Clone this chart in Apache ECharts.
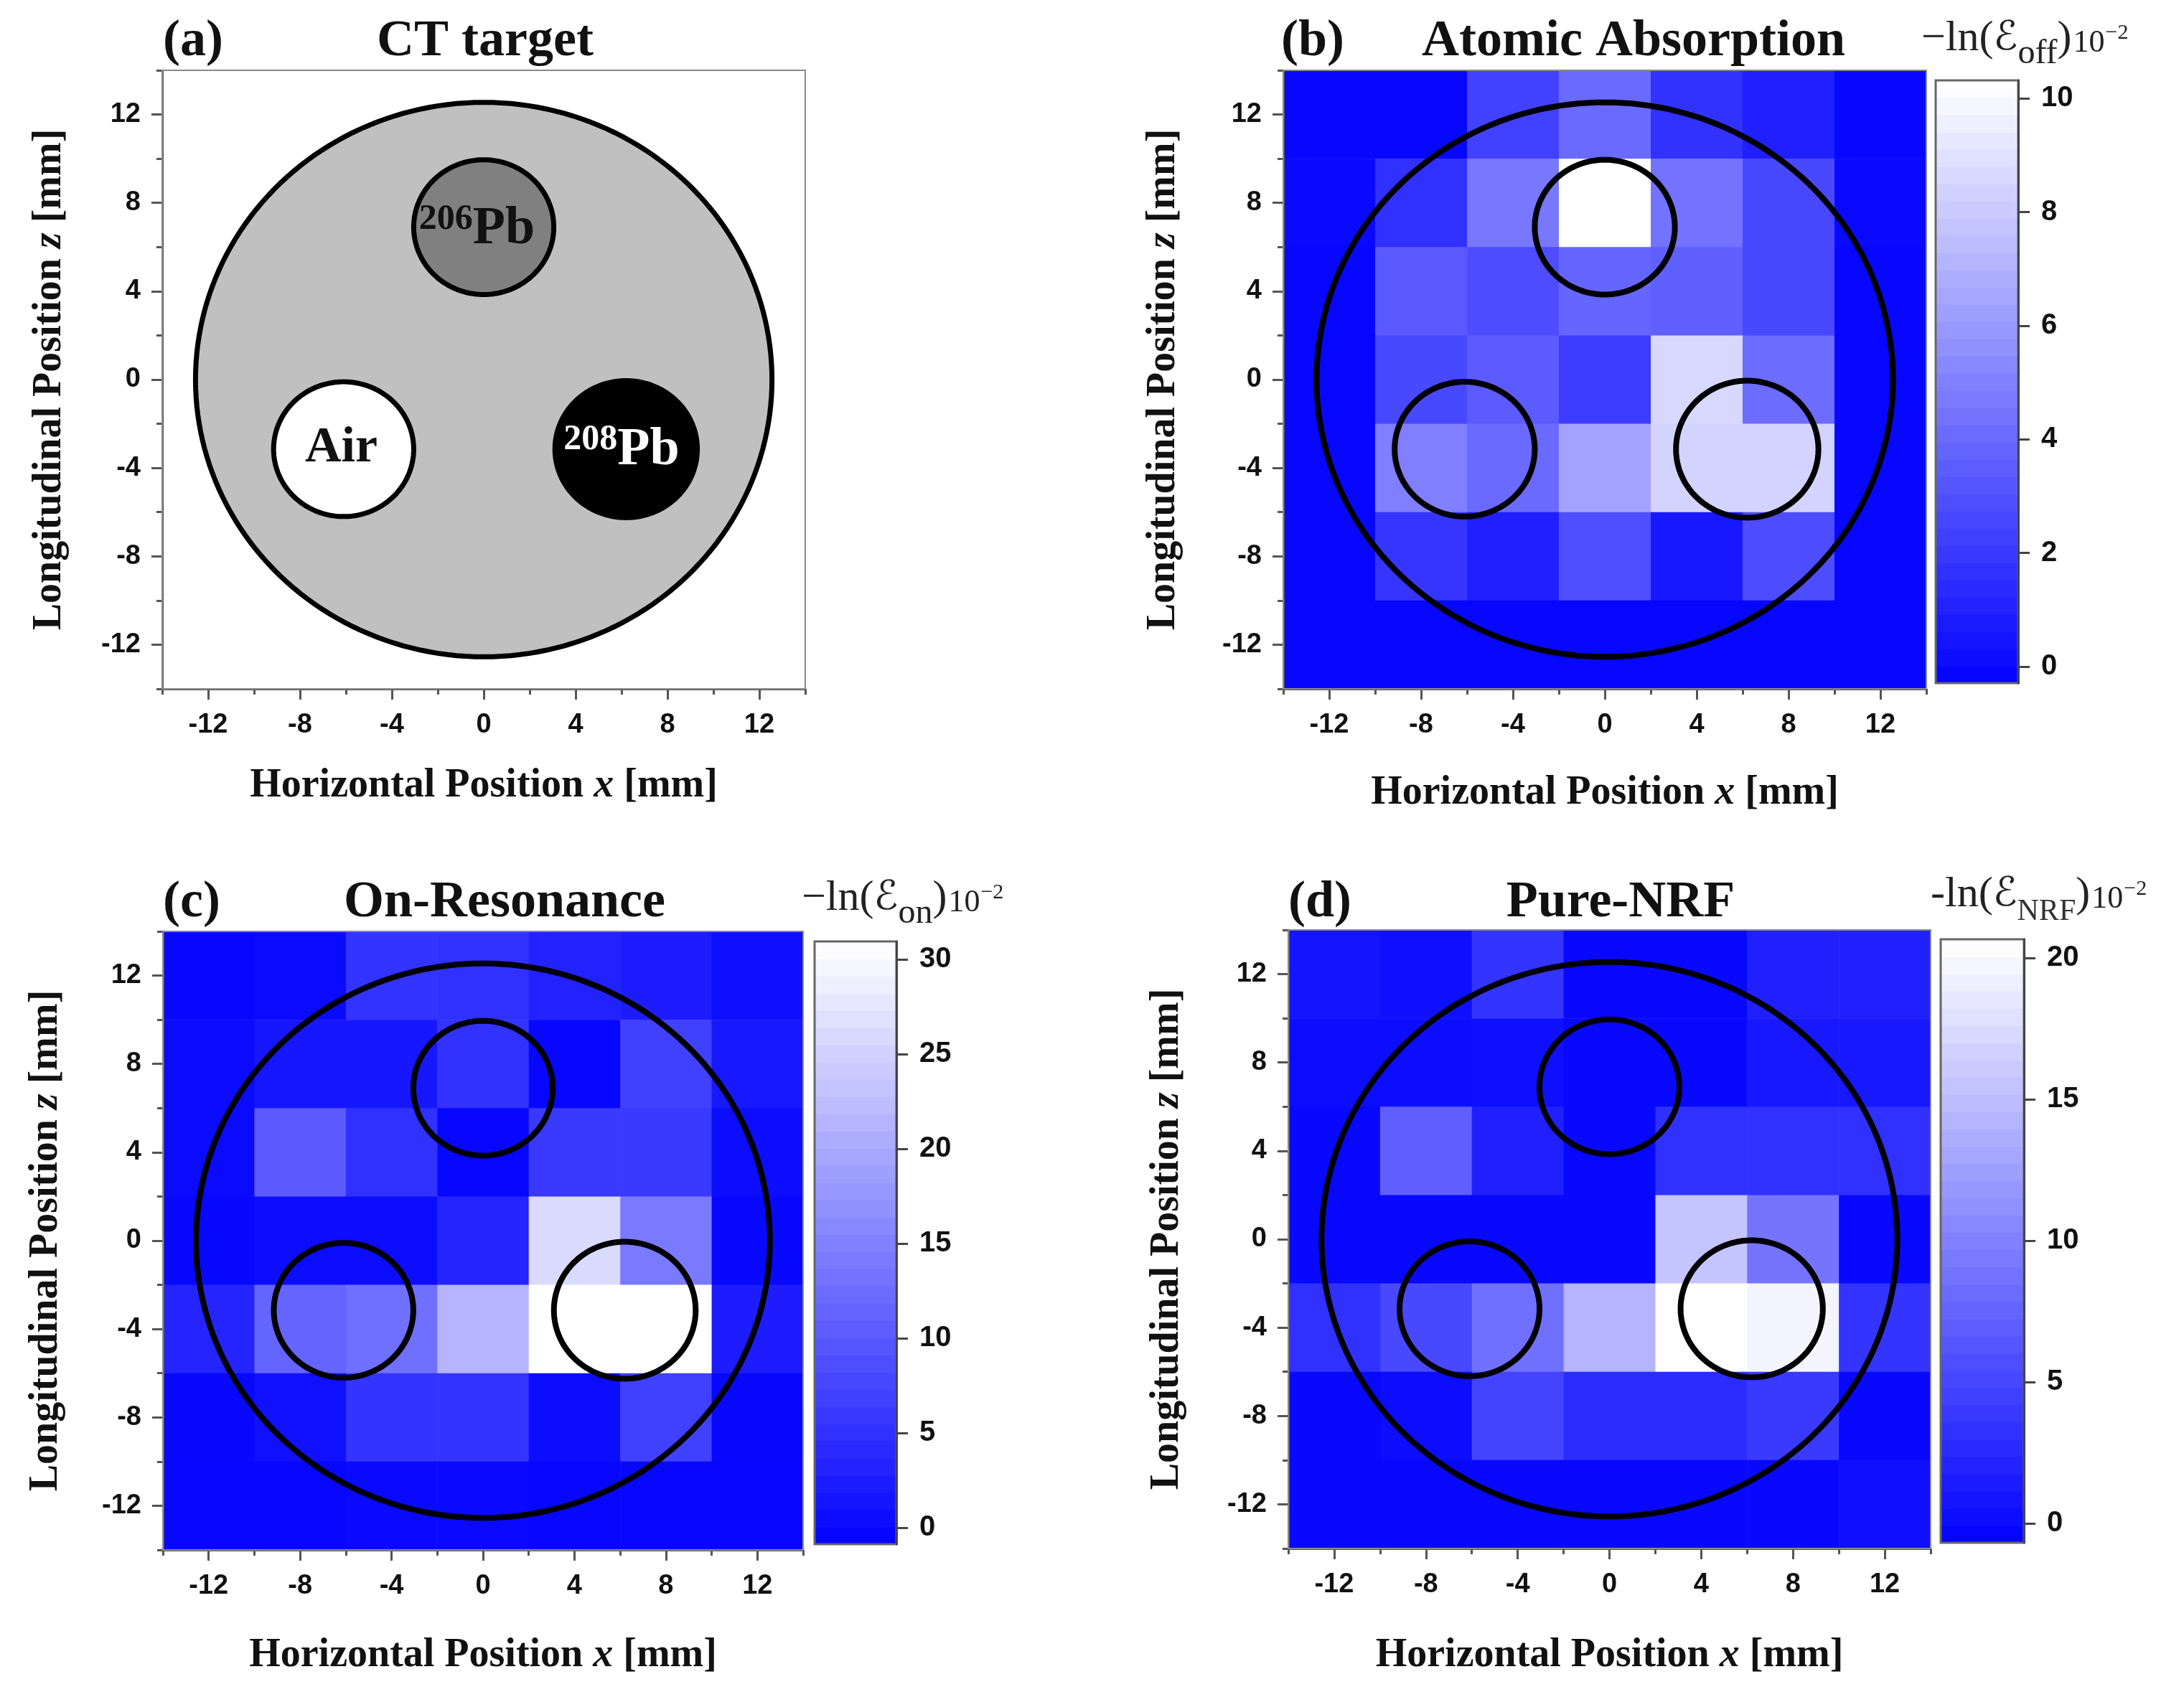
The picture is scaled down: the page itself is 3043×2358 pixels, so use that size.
<!DOCTYPE html>
<html><head><meta charset="utf-8">
<script src="https://cdn.jsdelivr.net/npm/echarts@6/dist/echarts.min.js"></script>
<style>html,body{margin:0;padding:0;background:#fff}#c{width:3043px;height:2358px}</style>
</head><body><div id="c"></div><script>
// ---------- data ----------
const xCenters = [-12, -8, -4, 0, 4, 8, 12];
const zCenters = [12, 8, 4, 0, -4, -8, -12];
const majorTicks = [-12, -8, -4, 0, 4, 8, 12];
const minorTicks = [-14, -10, -6, -2, 2, 6, 10, 14];

// -ln(E_off) x10^-2 (rows: z = 12 ... -12, cols: x = -12 ... 12)
const offVals = [
  [0, 0, 2.4, 4.1, 1.8, 1.0, 0],
  [0.1, 1.7, 4.7, 10.3, 4.5, 2.7, 0.1],
  [0, 3.4, 2.9, 3.9, 3.7, 2.7, 0],
  [0, 2.7, 3.5, 2.2, 8.7, 4.2, 0],
  [0, 5.0, 4.1, 6.5, 8.5, 8.5, 0],
  [0, 1.9, 1.0, 3.0, 0.7, 2.9, 0],
  [0, 0, 0, 0, 0, 0, 0]
];
// -ln(E_on) x10^-2
const onVals = [
  [0, 0.4, 5.5, 5.2, 3.4, 2.6, 1.0],
  [0.4, 1.9, 1.9, 5.4, 0, 7.1, 2.1],
  [0.4, 10.4, 5.1, 0, 6.4, 6.4, 0.6],
  [0.1, 0.6, 0.6, 3.6, 26.3, 14.4, 0.1],
  [3.6, 11.6, 13.1, 21.6, 30.9, 30.8, 2.6],
  [0.1, 1.1, 5.6, 5.6, 0.6, 7.1, 0.1],
  [0, 0, 0.2, 0.2, 0, 0, 0]
];
// -ln(E_NRF) x10^-2
const nrfVals = [
  [1.0, 0.6, 3.7, 0, 0, 2.0, 2.0],
  [0.3, 0.3, 0.6, 0, 0, 1.3, 1.3],
  [0, 7.3, 2.0, 0, 3.3, 3.3, 3.3],
  [0, 0, 0, 0, 15.7, 9.0, 0],
  [3.3, 5.3, 8.7, 14.4, 20.6, 19.7, 3.7],
  [0, 0.3, 5.0, 3.0, 3.0, 4.2, 0],
  [0, 0, 0, 0, 0, 0, 0.6]
];
const offTicks = [0, 2, 4, 6, 8, 10];
const onTicks = [0, 5, 10, 15, 20, 25, 30];
const nrfTicks = [0, 5, 10, 15, 20];
const offRange = [-0.29, 10.32];
const onRange = [-0.87, 30.95];
const nrfRange = [-0.69, 20.66];

// target geometry (mm): outer cylinder and three rods
const circleX = [0, 0, -6.1, 6.2];
const circleZ = [0, 6.9, -3.15, -3.15];
const circleR = [12.55, 3.05, 3.05, 3.1];
const circleFill = ['#c0c0c0', '#808080', '#ffffff', '#000000'];

const labelX = [-0.3, -6.2, 6.0];
const labelZ = [6.8, -3.1, -3.2];
const labelText = ['{s|206}{m|Pb}', '{a|Air}', '{sw|208}{mw|Pb}'];

const titles = ['CT target', 'Atomic Absorption', 'On-Resonance', 'Pure-NRF'];
const letters = ['(a)', '(b)', '(c)', '(d)'];

// ---------- layout ----------
const plotGrids = [
  {left: 226, top: 98, width: 896, height: 862},
  {left: 1788, top: 98, width: 896, height: 862},
  {left: 227, top: 1298, width: 892, height: 862},
  {left: 1795, top: 1296, width: 895, height: 862}
];
const cbGrids = [
  {left: 2697, top: 112, width: 115, height: 840},
  {left: 1135, top: 1312, width: 114, height: 840},
  {left: 2704, top: 1309, width: 116, height: 841}
];
const xNameGaps = [108, 118, 120, 122];
const yNameGaps = [128, 138, 134, 140];

const SERIF = '"Liberation Serif", "Times New Roman", serif';
const SANS = '"Liberation Sans", Arial, sans-serif';
const tickLabel = {fontFamily: SANS, fontWeight: 'bold', fontSize: 38, color: '#111'};
const nameStyle = {
  fontFamily: SERIF, fontWeight: 'bold', fontSize: 56, color: '#111',
  rich: {i: {fontFamily: SERIF, fontWeight: 'bold', fontStyle: 'italic', fontSize: 56, color: '#111'}}
};

const grids = [], xAxes = [], yAxes = [], series = [], visualMaps = [];
plotGrids.forEach((g, i) => {
  grids.push(Object.assign({show: true, borderColor: '#8a8a8a', borderWidth: 2, backgroundColor: 'transparent', z: 10, outerBoundsMode: 'none', containLabel: false}, g));
  xAxes.push({
    type: 'value', gridIndex: i, min: -14, max: 14, position: 'bottom', z: 6,
    axisLine: {show: true, onZero: false, lineStyle: {color: '#555', width: 3}},
    axisTick: {show: true, inside: false, length: 15, customValues: majorTicks, lineStyle: {color: '#555', width: 3}},
    axisLabel: Object.assign({show: true, margin: 32, customValues: majorTicks}, tickLabel),
    splitLine: {show: false},
    name: 'Horizontal Position {i|x} [mm]', nameLocation: 'middle', nameGap: xNameGaps[i],
    nameMoveOverlap: false, nameTextStyle: nameStyle
  });
  xAxes.push({
    type: 'value', gridIndex: i, min: -14, max: 14, position: 'bottom', z: 6,
    axisLine: {show: false, onZero: false},
    axisTick: {show: true, inside: false, length: 8, customValues: minorTicks, lineStyle: {color: '#555', width: 3}},
    axisLabel: {show: false}, splitLine: {show: false}
  });
  yAxes.push({
    type: 'value', gridIndex: i, min: -14, max: 14, position: 'left', z: 6,
    axisLine: {show: true, onZero: false, lineStyle: {color: '#555', width: 3}},
    axisTick: {show: true, inside: false, length: 15, customValues: majorTicks, lineStyle: {color: '#555', width: 3}},
    axisLabel: Object.assign({show: true, margin: 30, customValues: majorTicks}, tickLabel),
    splitLine: {show: false},
    name: 'Longitudinal Position {i|z} [mm]', nameLocation: 'middle', nameGap: yNameGaps[i],
    nameMoveOverlap: false, nameTextStyle: nameStyle
  });
  yAxes.push({
    type: 'value', gridIndex: i, min: -14, max: 14, position: 'left', z: 6,
    axisLine: {show: false, onZero: false},
    axisTick: {show: true, inside: false, length: 8, customValues: minorTicks, lineStyle: {color: '#555', width: 3}},
    axisLabel: {show: false}, splitLine: {show: false}
  });
});

const cbRanges = [offRange, onRange, nrfRange];
const cbTicks = [offTicks, onTicks, nrfTicks];
cbGrids.forEach((g, k) => {
  const gi = 4 + k;
  grids.push(Object.assign({show: false, outerBoundsMode: 'none', containLabel: false}, g));
  xAxes.push({type: 'value', gridIndex: gi, min: 0, max: 1, show: false});
  yAxes.push({
    type: 'value', gridIndex: gi, min: cbRanges[k][0], max: cbRanges[k][1], position: 'right', z: 6,
    axisLine: {show: true, onZero: false, lineStyle: {color: '#444', width: 3}},
    axisTick: {show: true, inside: false, length: 16, customValues: cbTicks[k], lineStyle: {color: '#444', width: 3}},
    axisLabel: Object.assign({show: true, margin: 32, customValues: cbTicks[k]}, tickLabel, {fontSize: 40}),
    splitLine: {show: false}
  });
});

function ringPoints(api, cx, cz, r) {
  const pts = [];
  const n = 200;
  for (let k = 0; k < n; k++) {
    const t = k / n * Math.PI * 2;
    pts.push(api.coord([cx + r * Math.cos(t), cz + r * Math.sin(t)]));
  }
  return pts;
}
const circleData = circleX.map((cx, i) => [cx, circleZ[i], circleR[i], i]);

// panel (a): target drawing
series.push({
  type: 'custom', xAxisIndex: 0, yAxisIndex: 0, z: 3,
  data: circleData,
  renderItem: (params, api) => ({
    type: 'polygon',
    shape: {points: ringPoints(api, api.value(0), api.value(1), api.value(2))},
    style: {fill: circleFill[api.value(3)], stroke: '#000', lineWidth: 7}
  })
});
const labRich = {
  a: {fontFamily: SERIF, fontWeight: 'bold', fontSize: 70, lineHeight: 74, fill: '#111'},
  m: {fontFamily: SERIF, fontWeight: 'bold', fontSize: 74, lineHeight: 78, fill: '#111'},
  s: {fontFamily: SERIF, fontWeight: 'bold', fontSize: 50, lineHeight: 50, verticalAlign: 'top', fill: '#111'},
  mw: {fontFamily: SERIF, fontWeight: 'bold', fontSize: 74, lineHeight: 78, fill: '#fff'},
  sw: {fontFamily: SERIF, fontWeight: 'bold', fontSize: 50, lineHeight: 50, verticalAlign: 'top', fill: '#fff'}
};
series.push({
  type: 'custom', xAxisIndex: 0, yAxisIndex: 0, z: 4,
  data: labelX.map((x, i) => [x, labelZ[i], i]),
  renderItem: (params, api) => {
    const p = api.coord([api.value(0), api.value(1)]);
    return {type: 'text', x: p[0], y: p[1],
      style: {text: labelText[api.value(2)], rich: labRich, align: 'center', verticalAlign: 'middle'}};
  }
});

// panels (b)-(d)
const panelVals = [offVals, onVals, nrfVals];
const half = (xCenters[1] - xCenters[0]) / 2;
panelVals.forEach((vals, k) => {
  const pi = k + 1;
  const data = [];
  vals.forEach((row, r) => row.forEach((v, c) => data.push([xCenters[c], zCenters[r], v])));
  const heatIdx = series.length;
  series.push({
    type: 'custom', xAxisIndex: 2 * pi, yAxisIndex: 2 * pi, z: 2,
    data: data,
    renderItem: (params, api) => {
      const x = api.value(0), z = api.value(1);
      const p1 = api.coord([x - half, z + half]);
      const p2 = api.coord([x + half, z - half]);
      return {type: 'rect', shape: {x: p1[0], y: p1[1], width: p2[0] - p1[0] + 0.6, height: p2[1] - p1[1] + 0.6},
        style: {fill: api.visual('color')}};
    }
  });
  series.push({
    type: 'custom', xAxisIndex: 2 * pi, yAxisIndex: 2 * pi, z: 4,
    data: circleData,
    renderItem: (params, api) => ({
      type: 'polygon',
      shape: {points: ringPoints(api, api.value(0), api.value(1), api.value(2))},
      style: {fill: 'none', stroke: '#000', lineWidth: 8}
    })
  });
  // colour bar
  const rng = cbRanges[k];
  const nb = 35;
  const step = (rng[1] - rng[0]) / nb;
  const bands = [];
  for (let b = 0; b < nb; b++) {
    const lo = rng[0] + b * step, hi = lo + step;
    const mid = Math.min(rng[1], lo + step * 0.75);
    bands.push([0.5, mid, mid, lo, hi]);
  }
  const cbIdx = series.length;
  series.push({
    type: 'custom', xAxisIndex: 8 + k, yAxisIndex: 8 + k, z: 2,
    data: bands,
    renderItem: (params, api) => {
      const p1 = api.coord([0, api.value(4)]);
      const p2 = api.coord([1, api.value(3)]);
      const children = [{type: 'rect', shape: {x: p1[0], y: p1[1], width: p2[0] - p1[0], height: p2[1] - p1[1] + 0.8},
        style: {fill: api.visual('color')}}];
      if (params.dataIndex === nb - 1) {
        const q1 = api.coord([0, rng[1]]), q2 = api.coord([1, rng[0]]);
        children.push({type: 'rect', shape: {x: q1[0], y: q1[1], width: q2[0] - q1[0], height: q2[1] - q1[1]},
          style: {fill: 'none', stroke: '#666', lineWidth: 3}, z2: 10});
      }
      return {type: 'group', children: children};
    }
  });
  visualMaps.push({
    type: 'continuous', show: false, min: rng[0], max: rng[1], dimension: 2,
    seriesIndex: [heatIdx, cbIdx],
    inRange: {color: ['#0000ff', '#ffffff']}
  });
});

// ---------- texts ----------
const headFont = 'bold 72px ' + SERIF;
const letterPos = [[227, 58], [1785, 58], [227, 1258], [1795, 1258]];
const titlePos = [[676, 58], [2276, 58], [703, 1258], [2258, 1258]];
const graphics = [];
letters.forEach((t, i) => graphics.push({type: 'text', x: letterPos[i][0], y: letterPos[i][1],
  style: {text: t, font: headFont, fill: '#111', align: 'left', verticalAlign: 'middle'}}));
titles.forEach((t, i) => graphics.push({type: 'text', x: titlePos[i][0], y: titlePos[i][1],
  style: {text: t, font: headFont, fill: '#111', align: 'center', verticalAlign: 'middle'}}));

const cbRich = {
  m: {fontFamily: SERIF, fontSize: 60, lineHeight: 90, fill: '#222'},
  e: {fontFamily: '"DejaVu Serif", "DejaVu Sans", serif', fontStyle: 'italic', fontSize: 56, lineHeight: 90, fill: '#222'},
  sub: {fontFamily: SERIF, fontSize: 48, lineHeight: 46, verticalAlign: 'bottom', fill: '#222'},
  subc: {fontFamily: SERIF, fontSize: 42, lineHeight: 46, verticalAlign: 'bottom', fill: '#333'},
  t: {fontFamily: SERIF, fontSize: 44, lineHeight: 44, padding: [12, 0, 0, 2], fill: '#222'},
  sup: {fontFamily: SERIF, fontSize: 30, lineHeight: 30, padding: [0, 0, 16, 1], fill: '#222'}
};
const cbTitles = [
  '{m|\u2212ln(}{e|\u2130}{sub|off}{m|)}{t|10}{sup|\u22122}',
  '{m|\u2212ln(}{e|\u2130}{sub|on}{m|)}{t|10}{sup|\u22122}',
  '{m|-ln(}{e|\u2130}{subc|NRF}{m|)}{t|10}{sup|\u22122}'
];
const cbTitlePos = [[2677, 54], [1117, 1252], [2690, 1247]];
cbTitles.forEach((t, i) => graphics.push({type: 'text', x: cbTitlePos[i][0], y: cbTitlePos[i][1],
  style: {text: t, rich: cbRich, align: 'left', verticalAlign: 'middle'}}));

const chart = echarts.init(document.getElementById('c'), null, {renderer: 'canvas', width: 3043, height: 2358});
chart.setOption({
  backgroundColor: '#ffffff',
  animation: false,
  grid: grids,
  xAxis: xAxes,
  yAxis: yAxes,
  visualMap: visualMaps,
  series: series,
  graphic: graphics
});
</script></body></html>
